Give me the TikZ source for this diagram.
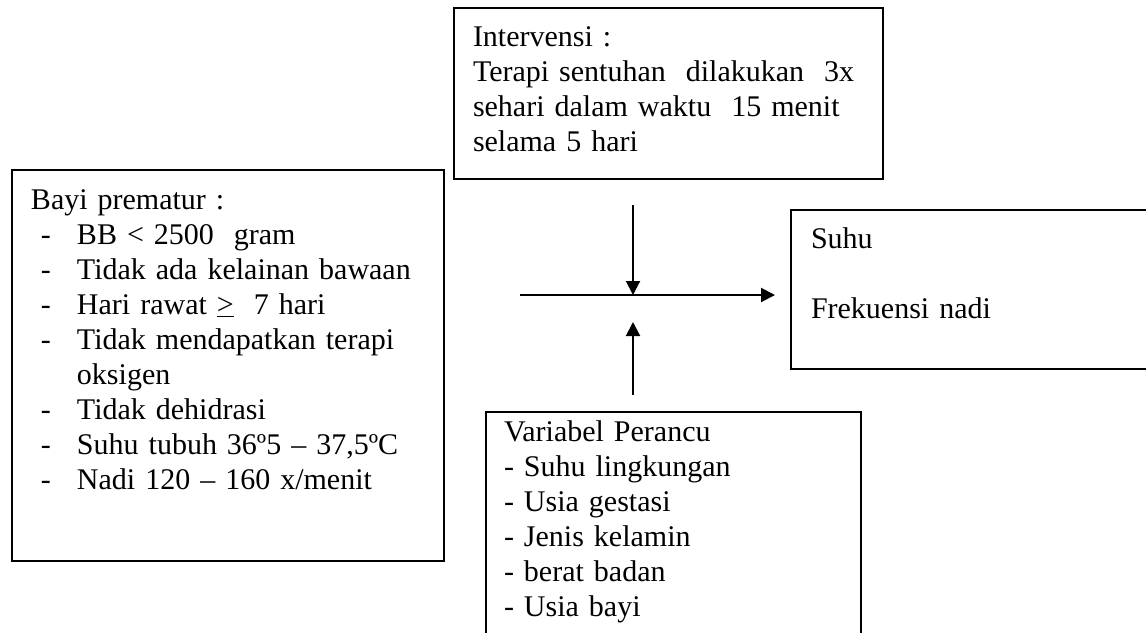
\documentclass[tikz,border=0pt]{standalone}
\usepackage{fontspec}
\setmainfont{Liberation Serif}
\usetikzlibrary{positioning, arrows.meta}
\newcommand{\butir}[1]{\makebox[23pt][l]{\hspace*{5pt}-}#1}
\newcommand{\lanjut}[1]{\hspace*{23pt}#1}
\tikzset{
    kotak/.style={ % the framed boxes, text starts at the top left
        draw,
        line width=1pt,
        anchor=north west,
        align=left,
        inner xsep=9.5pt,
        inner ysep=0pt,
        font=\fontsize{15}{17.5}\selectfont
    },
    panah/.style={ % connectors
        ->, >={Triangle[length=7pt,width=7pt]},
        line width=1pt
    }
}
\begin{document}
\begin{tikzpicture}[x=0.5pt, y=-0.5pt]
        \useasboundingbox (0,0) rectangle (1146,632);
        % kotak atas dan kiri
        \node[kotak, text width=195.5pt, text height=19pt, text depth=66.5pt]
            (intv) at (453,7) {Intervensi :\\
                Terapi sentuhan\ \ dilakukan\ \ 3x\\
                sehari dalam waktu\ \ 15 menit\\
                selama 5 hari};
        \node[kotak, text width=197pt, text height=19.5pt, text depth=176pt]
            (bayi) at (11,169) {Bayi prematur :\\
                \butir{BB < 2500\ \ gram}\\
                \butir{Tidak ada kelainan bawaan}\\
                \butir{Hari rawat \underline{>}\ \ 7 hari}\\
                \butir{Tidak mendapatkan terapi}\\
                \lanjut{oksigen}\\
                \butir{Tidak dehidrasi}\\
                \butir{Suhu tubuh 36º5 – 37,5ºC}\\
                \butir{Nadi 120 – 160 x/menit}};
        % kotak kanan dan bawah
        \node[kotak, inner xsep=10pt, text width=161pt, text height=19pt, text depth=60.5pt]
            (suhu) at (790,209) {Suhu\\[17.5pt]
                Frekuensi nadi};
        \node[kotak, inner xsep=9pt, text width=169.5pt, text height=14.5pt, text depth=105pt]
            (vari) at (485,411) {Variabel Perancu\\
                - Suhu lingkungan\\
                - Usia gestasi\\
                - Jenis kelamin\\
                - berat badan\\
                - Usia bayi};

        \coordinate (temu)  at (633,295);
        \coordinate (mulai) at (520,295);

        \draw[panah, shorten <=12.5pt]              (intv.south -| temu) -- (temu);
        \draw[panah, shorten >=7.5pt]               (mulai) -- (suhu.west |- temu);
        \draw[panah, shorten <=8pt, shorten >=13.5pt] (vari.north -| temu) -- (temu);
    \end{tikzpicture}
\end{document}
